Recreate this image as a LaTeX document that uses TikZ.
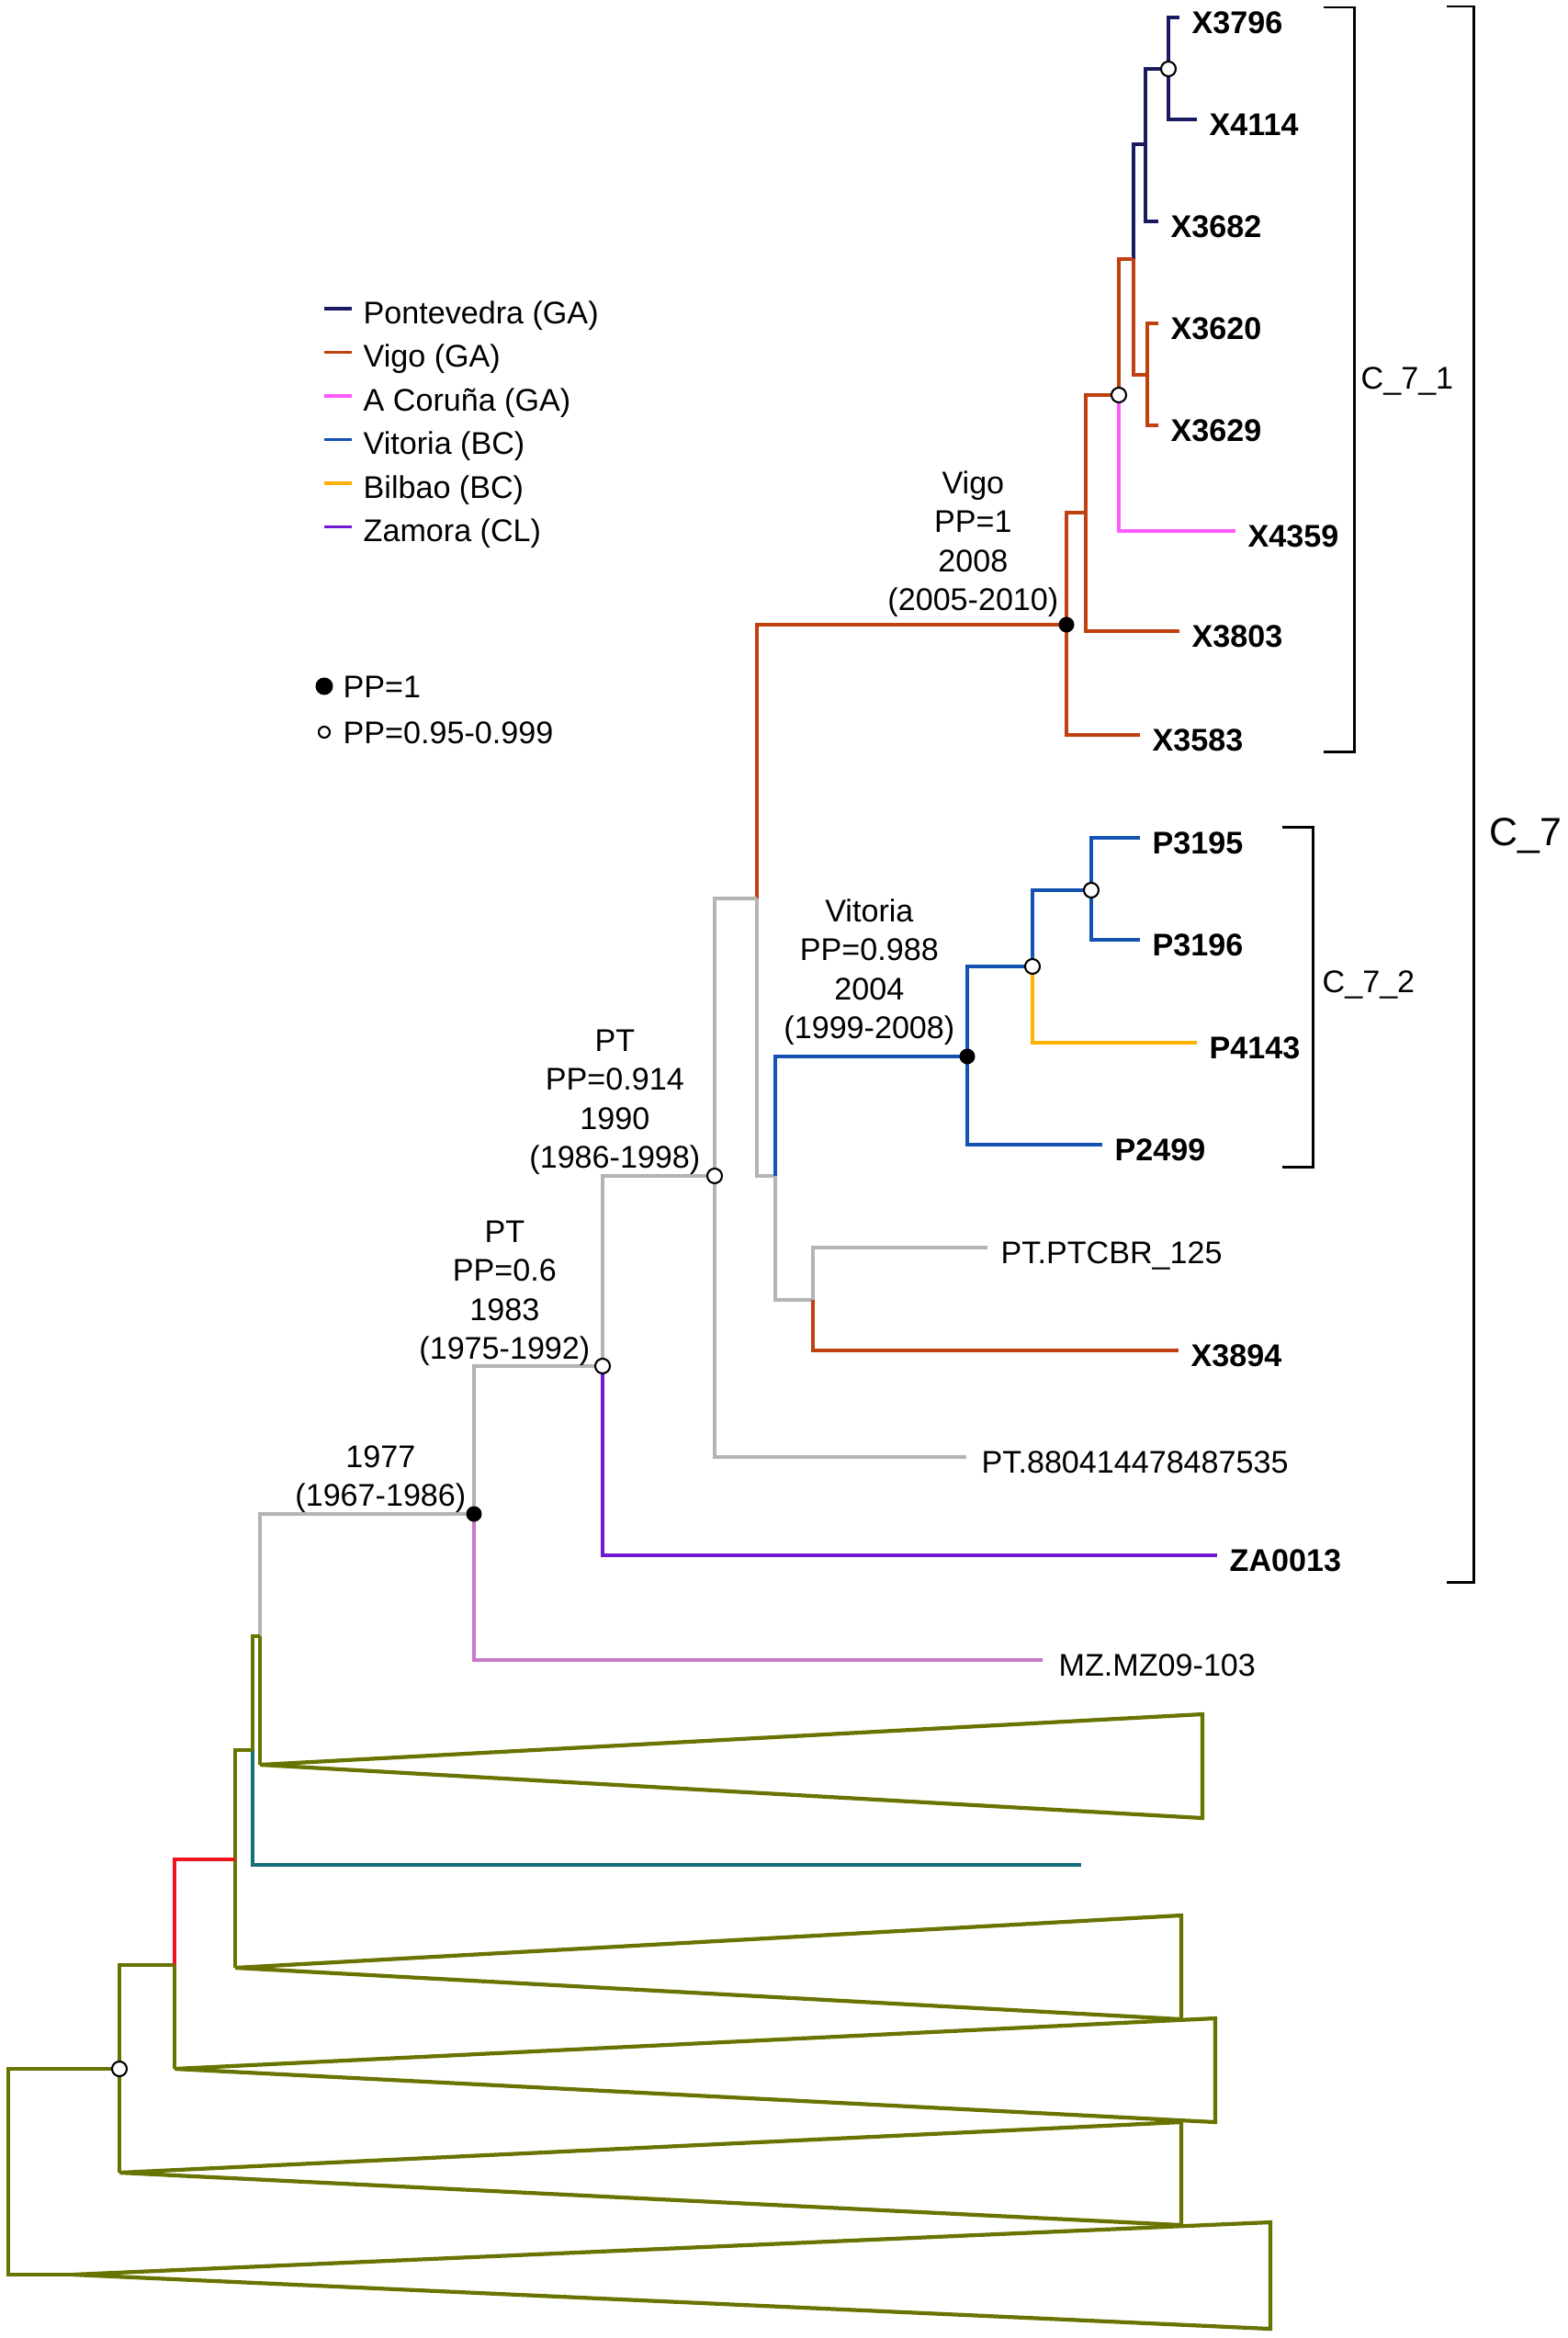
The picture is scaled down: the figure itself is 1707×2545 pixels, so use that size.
\documentclass[tikz,border=0pt]{standalone}
\usepackage{fontspec}
\setmainfont{Liberation Sans}
\definecolor{navyc}{RGB}{25,25,95}
\definecolor{vigoc}{RGB}{192,64,16}
\definecolor{pinkc}{RGB}{255,90,255}
\definecolor{vitc}{RGB}{20,82,178}
\definecolor{bilc}{RGB}{255,176,0}
\definecolor{zamc}{RGB}{112,24,212}
\definecolor{mzc}{RGB}{200,120,200}
\definecolor{grayc}{RGB}{180,180,180}
\definecolor{olivec}{RGB}{105,115,0}
\definecolor{tealc}{RGB}{20,110,125}
\definecolor{redc}{RGB}{240,20,30}
\tikzset{
  br/.style={line width=1.1pt},
  gbr/.style={line width=0.9pt, grayc},
  obr/.style={line width=1.2pt, olivec, line join=miter},
  pp1/.style={circle, fill=black, minimum size=0.17cm, inner sep=0pt},
  ppo/.style={circle, draw=black, fill=white, line width=0.6pt, minimum size=0.16cm, inner sep=0pt},
  tipb/.style={anchor=base west, inner sep=0pt, xshift=0.13cm, yshift=-0.17cm, font=\fontsize{9.7}{12}\selectfont\bfseries},
  tipn/.style={anchor=base west, inner sep=0pt, xshift=0.14cm, yshift=-0.17cm},
  intlab/.style={anchor=south east, align=center, inner sep=0pt},
  brk/.style={line width=0.85pt},
  legline/.style={line width=1pt},
  leglab/.style={anchor=base west, inner sep=0pt}
}
\begin{document}
\begin{tikzpicture}[x=0.01cm, y=-0.01cm, font=\fontsize{9.7}{12}\selectfont]
    \useasboundingbox (0,0) rectangle (1707,2545);
    % tips
    \coordinate (t3796) at (1284,19);
    \coordinate (t4114) at (1303,130);
    \coordinate (t3682) at (1261,241);
    \coordinate (t3620) at (1261,352);
    \coordinate (t3629) at (1261,463);
    \coordinate (t4359) at (1345,578);
    \coordinate (t3803) at (1284,687);
    \coordinate (t3583) at (1241,800);
    \coordinate (tp3195) at (1241,912);
    \coordinate (tp3196) at (1241,1023);
    \coordinate (tp4143) at (1303,1135);
    \coordinate (tp2499) at (1200,1246);
    \coordinate (tptcbr) at (1075,1358);
    \coordinate (t3894) at (1283,1470);
    \coordinate (tpt880) at (1052,1586);
    \coordinate (tza) at (1325,1693);
    \coordinate (tmz) at (1135,1807);
    \coordinate (tteal) at (1177,2030);
    % collapsed clades (apex)
    \coordinate (tri1) at (283,1921);
    \coordinate (tri2) at (256,2142);
    \coordinate (tri3) at (190,2252);
    \coordinate (tri4) at (130,2365);
    \coordinate (tri5) at (79,2476);
    % internal nodes
    \coordinate (n1) at (1272,75);
    \coordinate (n2) at (1247,157);
    \coordinate (n3) at (1234,282);
    \coordinate (n4) at (1249,408);
    \coordinate (n5) at (1218,430);
    \coordinate (n6) at (1182,558);
    \coordinate (n7) at (1161,680);%Vigo
    \coordinate (n8) at (824,978);
    \coordinate (n9) at (844,1280);
    \coordinate (n18) at (1188,969);
    \coordinate (n19) at (1124,1052);
    \coordinate (n20) at (1053,1150);%Vitoria
    \coordinate (n21) at (885,1415);
    \coordinate (n10) at (778,1280);
    \coordinate (n11) at (656,1487);
    \coordinate (n12) at (516,1648);
    \coordinate (n13) at (283,1781);
    \coordinate (n14) at (275,1905);
    \coordinate (n15) at (256,2024);
    \coordinate (n16) at (190,2139);
    \coordinate (n17) at (130,2252);
    \coordinate (n0) at (9,2364);%root

    % branches
    \draw[br,navyc] (n1) |- (t3796);
    \draw[br,navyc] (n1) |- (t4114);
    \draw[br,navyc] (n2) |- (n1);
    \draw[br,navyc] (n2) |- (t3682);
    \draw[br,navyc] (n3) |- (n2);
    \draw[br,vigoc] (n3) |- (n4);
    \draw[br,vigoc] (n4) |- (t3620);
    \draw[br,vigoc] (n4) |- (t3629);
    \draw[br,vigoc] (n5) |- (n3);
    \draw[br,pinkc] (n5) |- (t4359);
    \draw[br,vigoc] (n6) |- (n5);
    \draw[br,vigoc] (n6) |- (t3803);
    \draw[br,vigoc] (n7) |- (n6);
    \draw[br,vigoc] (n7) |- (t3583);
    \draw[br,vigoc] (n8) |- (n7);
    \draw[gbr] (n8) |- (n9);
    \draw[br,vitc] (n18) |- (tp3195);
    \draw[br,vitc] (n18) |- (tp3196);
    \draw[br,vitc] (n19) |- (n18);
    \draw[br,bilc] (n19) |- (tp4143);
    \draw[br,vitc] (n20) |- (n19);
    \draw[br,vitc] (n20) |- (tp2499);
    \draw[br,vitc] (n9) |- (n20);
    \draw[gbr] (n9) |- (n21);
    \draw[gbr] (n21) |- (tptcbr);
    \draw[br,vigoc] (n21) |- (t3894);
    \draw[gbr] (n10) |- (n8);
    \draw[gbr] (n10) |- (tpt880);
    \draw[gbr] (n11) |- (n10);
    \draw[br,zamc] (n11) |- (tza);
    \draw[gbr] (n12) |- (n11);
    \draw[br,mzc] (n12) |- (tmz);
    \draw[gbr] (n13) |- (n12);
    \draw[obr] (n13) |- (tri1);
    \draw[obr] (n14) |- (n13);
    \draw[br,tealc] (n14) |- (tteal);
    \draw[obr] (n15) |- (n14);
    \draw[obr] (n15) |- (tri2);
    \draw[br,redc] (n16) |- (n15);
    \draw[obr] (n16) |- (tri3);
    \draw[obr] (n17) |- (n16);
    \draw[obr] (n17) |- (tri4);
    \draw[obr] (n0) |- (n17);
    \draw[obr] (n0) |- (tri5);
    % triangles
    \draw[obr] (tri1) -- (1309,1866) -- (1309,1979) -- cycle;
    \draw[obr] (tri2) -- (1286,2085) -- (1286,2198) -- cycle;
    \draw[obr] (tri3) -- (1323,2197) -- (1323,2310) -- cycle;
    \draw[obr] (tri4) -- (1286,2310) -- (1286,2422) -- cycle;
    \draw[obr] (tri5) -- (1383,2419) -- (1383,2535) -- cycle;

    % support markers
    \node[ppo] (c1) at (n1) {};
    \node[ppo] (c5) at (n5) {};
    \node[pp1] (c7) at (n7) {};
    \node[ppo] (c18) at (n18) {};
    \node[ppo] (c19) at (n19) {};
    \node[pp1] (c20) at (n20) {};
    \node[ppo] (c10) at (n10) {};
    \node[ppo] (c11) at (n11) {};
    \node[pp1] (c12) at (n12) {};
    \node[ppo] (c17) at (n17) {};

    % tip labels
    \node[tipb] (l3796) at (t3796) {X3796};
    \node[tipb] (l4114) at (t4114) {X4114};
    \node[tipb] (l3682) at (t3682) {X3682};
    \node[tipb] (l3620) at (t3620) {X3620};
    \node[tipb] (l3629) at (t3629) {X3629};
    \node[tipb] (l4359) at (t4359) {X4359};
    \node[tipb] (l3803) at (t3803) {X3803};
    \node[tipb] (l3583) at (t3583) {X3583};
    \node[tipb] (lp3195) at (tp3195) {P3195};
    \node[tipb] (lp3196) at (tp3196) {P3196};
    \node[tipb] (lp4143) at (tp4143) {P4143};
    \node[tipb] (lp2499) at (tp2499) {P2499};
    \node[tipn] (lptcbr) at (tptcbr) {PT.PTCBR\_125};
    \node[tipb] (l3894) at (t3894) {X3894};
    \node[tipn,xshift=0.02cm] (lpt880) at (tpt880) {PT.880414478487535};
    \node[tipb] (lza) at (tza) {ZA0013};
    \node[tipn,xshift=0.03cm] (lmz) at (tmz) {MZ.MZ09-103};

    % node labels
    \node[intlab] (lvigo) at (1153,672) {Vigo\\PP=1\\2008\\(2005-2010)};
    \node[intlab] (lvit) at (1040,1138) {Vitoria\\PP=0.988\\2004\\(1999-2008)};
    \node[intlab] (lpt1) at (763,1279) {PT\\PP=0.914\\1990\\(1986-1998)};
    \node[intlab] (lpt2) at (643,1487) {PT\\PP=0.6\\1983\\(1975-1992)};
    \node[intlab] (l1977) at (508,1647) {1977\\(1967-1986)};

    % clade brackets
    \coordinate (b1) at (1441,8);
    \coordinate (b1e) at (1441,818);
    \draw[brk] (b1) -- ++(33,0) |- (b1e);
    \node[anchor=west, inner sep=0pt] (c71) at (1481,415) {C\_7\_1};
    \coordinate (b2) at (1396,900);
    \coordinate (b2e) at (1396,1270);
    \draw[brk] (b2) -- ++(33,0) |- (b2e);
    \node[anchor=west, inner sep=0pt] (c72) at (1439,1072) {C\_7\_2};
    \coordinate (b3) at (1575,7);
    \coordinate (b3e) at (1575,1722);
    \draw[brk] (b3) -- ++(29,0) |- (b3e);
    \node[anchor=west, inner sep=0pt, font=\fontsize{12.2}{14}\selectfont] (c7l) at (1621,910) {C\_7};

    % legend
    \foreach \col/\txt [count=\i from 0] in {navyc/Pontevedra (GA),vigoc/Vigo (GA),pinkc/A Coruña (GA),vitc/Vitoria (BC),bilc/Bilbao (BC),zamc/Zamora (CL)}{
        \coordinate (lg\i) at (353,{336+47.5*\i});
        \draw[legline,\col] (lg\i) -- ++(30,0);
        \node[leglab] (lt\i) at ([shift={(42,16)}]lg\i) {\txt};
    }
    \node[pp1, minimum size=0.19cm] (k1) at (353,747) {};
    \node[leglab] (kt1) at (373,759) {PP=1};
    \node[ppo, minimum size=0.12cm] (k2) at (353,797) {};
    \node[leglab] (kt2) at (373,809) {PP=0.95-0.999};
\end{tikzpicture}
\end{document}
